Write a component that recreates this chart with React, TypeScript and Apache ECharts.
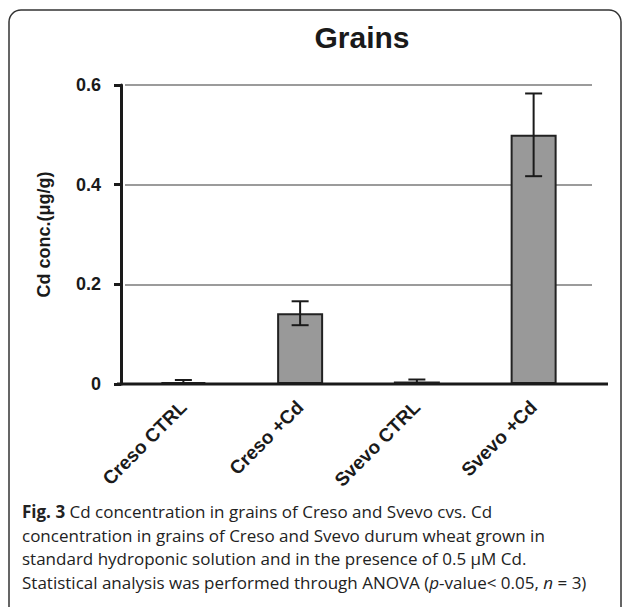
import React, { useEffect, useRef } from "react";
import * as echarts from "echarts";

const categories = ["Creso CTRL", "Creso +Cd", "Svevo CTRL", "Svevo +Cd"];
const means = [0.004, 0.142, 0.005, 0.5];
const errors = [0.004, 0.024, 0.004, 0.083];
const yMin = 0;
const yMax = 0.6;
const yStep = 0.2;
const titleText = "Grains";
const yAxisName = "Cd conc.(μg/g)";
const captionLines = [
  "{b|Fig. 3} Cd concentration in grains of Creso and Svevo cvs. Cd",
  "concentration in grains of Creso and Svevo durum wheat grown in",
  "standard hydroponic solution and in the presence of 0.5 μM Cd.",
  "Statistical analysis was performed through ANOVA ({i|p}-value< 0.05, {i|n} = 3)",
];

const W = 627;
const H = 607;
const GRID_LEFT = 125;
const GRID_RIGHT = 35;
const GRID_TOP = 85;
const GRID_BOTTOM = 223;
const AXIS_FONT = "'Liberation Sans', Arial, sans-serif";
const CAP_FONT = "'Open Sans', 'Noto Sans', sans-serif";

export default function App() {
  const ref = useRef<HTMLDivElement>(null);
  useEffect(() => {
    if (!ref.current) return;
    const chart = echarts.init(ref.current, undefined, { renderer: "svg" });
    const errData = categories.map((c, i) => [i, means[i] - errors[i], means[i] + errors[i]]);
    const baseY = H - GRID_BOTTOM;
    chart.setOption({
      animation: false,
      backgroundColor: "#ffffff",
      grid: { left: GRID_LEFT, right: GRID_RIGHT, top: GRID_TOP, bottom: GRID_BOTTOM },
      xAxis: {
        type: "category",
        data: categories,
        axisLine: { show: false },
        axisTick: { show: false },
        axisLabel: {
          rotate: 45,
          margin: 20,
          fontSize: 19,
          fontWeight: "bold",
          color: "#1a1a1a",
          fontFamily: AXIS_FONT,
          interval: 0,
        },
      },
      yAxis: {
        type: "value",
        min: yMin,
        max: yMax,
        interval: yStep,
        offset: 4,
        name: yAxisName,
        nameLocation: "middle",
        nameGap: 68,
        nameTextStyle: {
          fontSize: 18,
          fontWeight: "bold",
          color: "#1a1a1a",
          fontFamily: AXIS_FONT,
        },
        axisLine: { show: true, lineStyle: { color: "#1a1a1a", width: 3 } },
        axisTick: { show: true, length: 7, lineStyle: { color: "#1a1a1a", width: 3 } },
        axisLabel: {
          margin: 20,
          fontSize: 18,
          fontWeight: "bold",
          color: "#1a1a1a",
          fontFamily: AXIS_FONT,
        },
        splitLine: { show: true, lineStyle: { color: "#7a7a7a", width: 1.6 } },
      },
      series: [
        {
          type: "bar",
          data: means,
          barWidth: 46,
          itemStyle: { color: "#999999", borderColor: "#222222", borderWidth: 2 },
          z: 2,
        },
        {
          type: "custom",
          data: errData,
          z: 3,
          renderItem: (params: any, api: any) => {
            const idx = api.value(0);
            const lo = api.coord([idx, api.value(1)]);
            const hi = api.coord([idx, api.value(2)]);
            const hw = 8.5;
            const st = { stroke: "#1a1a1a", lineWidth: 2 };
            return {
              type: "group",
              children: [
                { type: "line", shape: { x1: hi[0], y1: hi[1], x2: lo[0], y2: lo[1] }, style: st },
                { type: "line", shape: { x1: hi[0] - hw, y1: hi[1], x2: hi[0] + hw, y2: hi[1] }, style: st },
                { type: "line", shape: { x1: lo[0] - hw, y1: lo[1], x2: lo[0] + hw, y2: lo[1] }, style: st },
              ],
            };
          },
        },
      ],
      graphic: [
        {
          type: "rect",
          shape: { x: 9, y: 10, width: 612, height: 640, r: 12 },
          style: { fill: "none", stroke: "#333333", lineWidth: 1.5 },
          z: 0,
        },
        {
          type: "line",
          shape: { x1: GRID_LEFT - 8, y1: baseY, x2: W - GRID_RIGHT + 16, y2: baseY },
          style: { stroke: "#1a1a1a", lineWidth: 3 },
          z: 10,
        },
        {
          type: "text",
          x: 362,
          y: 37,
          style: {
            text: titleText,
            fontSize: 30,
            fontWeight: "bold",
            fontFamily: AXIS_FONT,
            fill: "#1a1a1a",
            align: "center",
            verticalAlign: "middle",
          },
        },
        {
          type: "text",
          x: 22,
          y: 500,
          style: {
            text: captionLines.join("\n"),
            fontSize: 17,
            fontFamily: CAP_FONT,
            fill: "#222222",
            lineHeight: 23.5,
            align: "left",
            verticalAlign: "top",
            rich: {
              b: { fontSize: 17, fontWeight: "bold", fontFamily: CAP_FONT, fill: "#222222", lineHeight: 23.5 },
              i: { fontSize: 17, fontStyle: "italic", fontFamily: CAP_FONT, fill: "#222222", lineHeight: 23.5 },
            },
          },
        },
      ],
    });
    return () => chart.dispose();
  }, []);
  return (
    <div
      ref={ref}
      style={{ position: "fixed", left: 0, top: 0, width: W, height: H, background: "#fff" }}
    />
  );
}
